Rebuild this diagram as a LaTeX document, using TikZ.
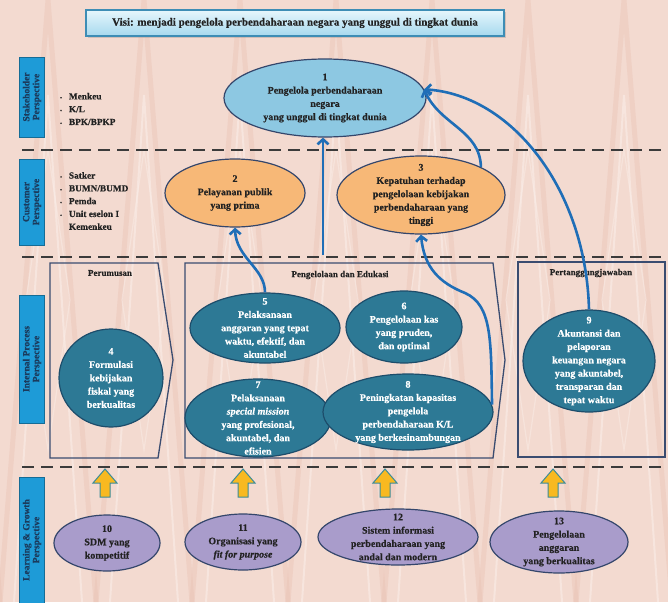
\documentclass[tikz,border=0pt]{standalone}
\usepackage{fontspec}
\setmainfont{Liberation Serif}[BoldFeatures={FakeBold=0.5},BoldItalicFeatures={FakeBold=0.5}]
\usetikzlibrary{shapes.geometric,arrows.meta,shadows}

\definecolor{bgpaper}{HTML}{F3DAD0}
\definecolor{batik}{HTML}{E9BFB0}
\definecolor{batiklight}{HTML}{FBEFEA}
\definecolor{visiontop}{HTML}{E6F6FC}
\definecolor{visionbot}{HTML}{A6D9EE}
\definecolor{visionline}{HTML}{3D8DB5}
\definecolor{sidefill}{HTML}{1E9BD7}
\definecolor{sidetext}{HTML}{1B3A5C}
\definecolor{skyfill}{HTML}{8DC8E2}
\definecolor{orangefill}{HTML}{F7B877}
\definecolor{tealfill}{HTML}{2D7995}
\definecolor{lilacfill}{HTML}{A99CCB}
\definecolor{rimline}{HTML}{34466B}
\definecolor{tealrim}{HTML}{1D4D6B}
\definecolor{flowblue}{HTML}{1F6EB7}
\definecolor{goldfill}{HTML}{F8B920}
\definecolor{goldline}{HTML}{3B8C98}
\definecolor{dashgray}{HTML}{3B3B3B}
\definecolor{framenavy}{HTML}{3A4C70}
\definecolor{inktext}{HTML}{222222}

\tikzset{
  goal/.style={ellipse, draw=rimline, line width=1.2pt, inner sep=0pt},
  goaltext/.style={align=center, inner sep=0pt, text=inktext,
    font=\bfseries\fontsize{10}{13.3}\selectfont},
  stakegoal/.style={goal, fill=skyfill},
  custgoal/.style={goal, fill=orangefill},
  procgoal/.style={goal, fill=tealfill, draw=tealrim},
  learngoal/.style={goal, fill=lilacfill, draw=rimline},
  proctext/.style={goaltext, text=white},
  sidelabel/.style={rotate=90, fill=sidefill, draw=sidefill!70!black, line width=0.4pt,
    text=sidetext, align=center, inner sep=0pt, minimum height=25pt,
    font=\bfseries\fontsize{9.5}{9.8}\selectfont},
  bulletlist/.style={align=left, anchor=west, inner sep=0pt, text=inktext,
    font=\bfseries\fontsize{9.3}{12.8}\selectfont},
  framebox/.style={draw=framenavy, line width=1.3pt},
  framelabel/.style={inner sep=0pt, text=inktext, font=\bfseries\fontsize{9}{10}\selectfont},
  divider/.style={draw=dashgray, line width=2.6pt, dash pattern=on 12pt off 7pt},
  flow/.style={draw=flowblue, line width=2.6pt,
    -{Straight Barb[length=5pt,width=11pt,line width=2.6pt]}},
  uparrow/.style={fill=goldfill, draw=goldline, line width=1pt, line join=miter},
}

\begin{document}
\begin{tikzpicture}[x=1pt,y=-1pt]
  % paper and batik texture
  \fill[bgpaper] (0,0) rectangle (668,602);
  \useasboundingbox (0,0) rectangle (668,602);
  \begin{scope}
    \clip (0,0) rectangle (668,602);
    \foreach \k in {-2,...,7} {
      \draw[batik, line width=5pt, opacity=0.35]
        (\k*96,602) -- (\k*96+48,0) -- (\k*96+96,602);
      \draw[batiklight, line width=2pt, opacity=0.55]
        (\k*96+14,602) -- (\k*96+48,95) -- (\k*96+82,602);
      \draw[batiklight, line width=1.2pt, opacity=0.45]
        (\k*96+48,150) -- (\k*96+70,300) -- (\k*96+48,450) -- (\k*96+26,300) -- cycle;
    }
  \end{scope}

  % vision banner
  \node[draw=visionline, line width=1.5pt, top color=visiontop, bottom color=visionbot,
        minimum width=418pt, minimum height=26pt, text=inktext,
        drop shadow={opacity=0.3, shadow xshift=2pt, shadow yshift=-2pt},
        font=\bfseries\fontsize{11}{12}\selectfont] (visi) at (295,23)
        {Visi: menjadi pengelola perbendaharaan negara yang unggul di tingkat dunia};

  % perspective dividers
  \draw[divider] (22,150) -- (668,150);
  \draw[divider] (22,257) -- (668,257);
  \draw[divider] (22,467) -- (668,467);

  % perspective labels
  \node[sidelabel, minimum width=80pt] (stakeholder) at (32,97) {Stakeholder\\Perspective};
  \node[sidelabel, minimum width=86pt] (customer) at (32,202) {Customer\\Perspective};
  \node[sidelabel, minimum width=128pt] (internal) at (32,359) {Internal Process\\Perspective};
  \node[sidelabel, minimum width=126pt] (learning) at (32,540) {Learning \& Growth\\Perspective};

  % stakeholder and customer lists
  \node[bulletlist] (stakelist) at (60,109)
    {{\tiny\textbullet}\hspace{7pt}Menkeu\\{\tiny\textbullet}\hspace{7pt}K/L\\{\tiny\textbullet}\hspace{7pt}BPK/BPKP};
  \node[bulletlist] (custlist) at (60,201)
    {{\tiny\textbullet}\hspace{7pt}Satker\\{\tiny\textbullet}\hspace{7pt}BUMN/BUMD\\{\tiny\textbullet}\hspace{7pt}Pemda\\{\tiny\textbullet}\hspace{7pt}Unit eselon I\\\phantom{{\tiny\textbullet}}\hspace{7pt}Kemenkeu};

  % internal process frames
  \draw[framebox] (50,263) -- (158,263) -- (173,360) -- (158,458) -- (50,458) -- cycle;
  \node[framelabel] (perumusan) at (110,273) {Perumusan};
  \draw[framebox] (185,263) -- (493,263) -- (505,360) -- (493,458) -- (185,458) -- cycle;
  \node[framelabel] (edukasi) at (340,275) {Pengelolaan dan Edukasi};
  \draw[framebox] (518,262) rectangle (665,457);
  \node[framelabel] (akuntabilitas) at (591,273) {Pertanggungjawaban};

  % stakeholder goal
  \node[stakegoal, minimum width=202pt, minimum height=78pt,
        label={[goaltext]center:{1\\Pengelola perbendaharaan\\negara\\yang unggul di tingkat dunia}}]
        (g1) at (325,98) {};

  % customer goals
  \node[custgoal, minimum width=140pt, minimum height=68pt,
        label={[goaltext]center:{2\\Pelayanan publik\\yang prima}}]
        (g2) at (235,193) {};
  \node[custgoal, minimum width=168pt, minimum height=78pt,
        label={[goaltext]center:{3\\Kepatuhan terhadap\\pengelolaan kebijakan\\perbendaharaan yang\\tinggi}}]
        (g3) at (421,195) {};

  % internal process goals
  \node[procgoal, minimum width=104pt, minimum height=98pt,
        label={[proctext]center:{4\\Formulasi\\kebijakan\\fiskal yang\\berkualitas}}]
        (g4) at (111,378) {};
  \node[procgoal, minimum width=150pt, minimum height=70pt,
        label={[proctext]center:{5\\Pelaksanaan\\anggaran yang tepat\\waktu, efektif, dan\\akuntabel}}]
        (g5) at (265,328) {};
  \node[procgoal, minimum width=116pt, minimum height=72pt,
        label={[proctext]center:{6\\Pengelolaan kas\\yang pruden,\\dan optimal}}]
        (g6) at (404,327) {};
  \node[procgoal, minimum width=146pt, minimum height=78pt,
        label={[proctext]center:{7\\Pelaksanaan\\\textit{special mission}\\yang profesional,\\akuntabel, dan\\efisien}}]
        (g7) at (258,418) {};
  \node[procgoal, minimum width=170pt, minimum height=76pt,
        label={[proctext]center:{8\\Peningkatan kapasitas\\pengelola\\perbendaharaan K/L\\yang berkesinambungan}}]
        (g8) at (408,412) {};
  \node[procgoal, minimum width=132pt, minimum height=102pt,
        label={[proctext]center:{9\\Akuntansi dan\\pelaporan\\keuangan negara\\yang akuntabel,\\transparan dan\\tepat waktu}}]
        (g9) at (589,361) {};

  % learning and growth goals
  \node[learngoal, minimum width=106pt, minimum height=56pt,
        label={[goaltext]center:{10\\SDM yang\\kompetitif}}]
        (g10) at (107,543) {};
  \node[learngoal, minimum width=116pt, minimum height=56pt,
        label={[goaltext]center:{11\\Organisasi yang\\\textit{fit for purpose}}}]
        (g11) at (243,542) {};
  \node[learngoal, minimum width=160pt, minimum height=56pt,
        label={[goaltext]center:{12\\Sistem informasi\\perbendaharaan yang\\andal dan modern}}]
        (g12) at (398,537) {};
  \node[learngoal, minimum width=138pt, minimum height=62pt,
        label={[goaltext]center:{13\\Pengelolaan\\anggaran\\yang berkualitas}}]
        (g13) at (559,542) {};

  % support arrows from learning and growth
  \foreach \ax in {105,243,385,553} {
    \draw[uparrow] (\ax,469) -- (\ax+12,483) -- (\ax+5,483) -- (\ax+5,497)
      -- (\ax-5,497) -- (\ax-5,483) -- (\ax-12,483) -- cycle;
  }

  % cause-effect links
  \coordinate (edutop) at (323,255);
  \draw[flow] (edutop) -- (edutop |- g1.south);
  \draw[flow] (g5.north) .. controls (265,268) and (236,258) .. (g2.south);
  \draw[flow] (g8.5) .. controls (491,340) and (492,305) .. (465,293)
                     .. controls (440,283) and (424,268) .. (g3.south);
  \draw[flow] (g3.25) .. controls (480,130) and (440,125) .. (g1.5);
  \draw[flow] (g9.north) .. controls (586,190) and (512,95) .. (g1.5);
\end{tikzpicture}
\end{document}
